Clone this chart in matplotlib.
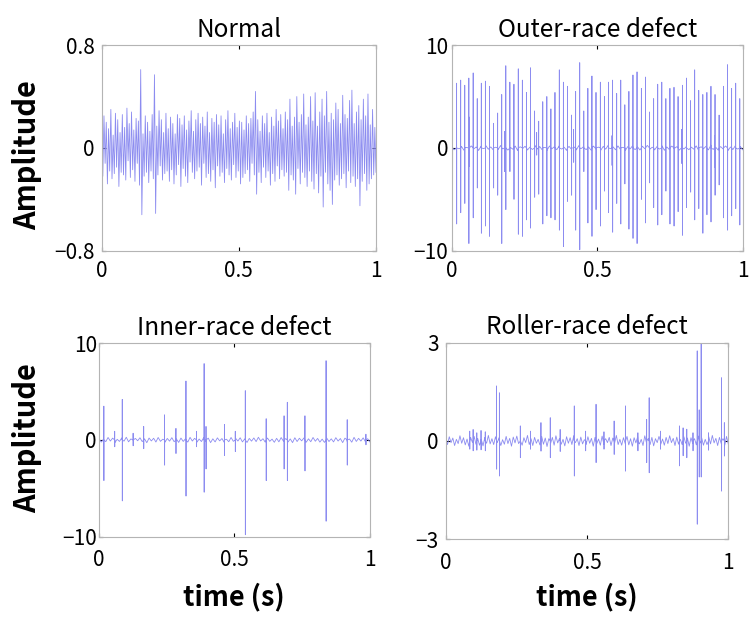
import numpy as np
import matplotlib
matplotlib.use('Agg')
import matplotlib.pyplot as plt

plt.rcParams['font.family'] = ['Noto Sans CJK JP', 'DejaVu Sans']

# Titles, limits and tick labels
titles = ['Normal', 'Outer-race defect', 'Inner-race defect', 'Roller-race defect']
y_limits = [0.8, 10, 10, 3]
x_ticks = [0, 0.5, 1]
x_tick_labels = ['0', '0.5', '1']

# Normal: dense vibration, samples read across 0..1 s
normal_signal = [
    0.18, -0.22, 0.25, -0.12, 0.20, -0.28, 0.15, -0.18, 0.30, -0.24, 0.10, -0.20, 0.27, -0.15, 0.22, -0.30, 0.12, -0.19, 0.26, -0.21,
    0.16, -0.25, 0.31, -0.10, 0.19, -0.23, 0.28, -0.17, 0.14, -0.26, 0.23, -0.12, 0.21, -0.29, 0.61, -0.52, 0.11, -0.22, 0.25, -0.19,
    0.20, -0.27, 0.13, -0.18, 0.26, -0.24, 0.57, -0.51, 0.17, -0.21, 0.29, -0.14, 0.22, -0.25, 0.12, -0.20, 0.27, -0.18, 0.15, -0.26,
    0.24, -0.17, 0.19, -0.28, 0.11, -0.21, 0.26, -0.13, 0.23, -0.30, 0.18, -0.16, 0.25, -0.22, 0.14, -0.27, 0.21, -0.11, 0.29, -0.19,
    0.13, -0.24, 0.22, -0.18, 0.27, -0.15, 0.19, -0.29, 0.24, -0.12, 0.17, -0.23, 0.28, -0.20, 0.12, -0.26, 0.23, -0.17, 0.20, -0.31,
    0.26, -0.14, 0.18, -0.22, 0.25, -0.19, 0.11, -0.27, 0.22, -0.16, 0.29, -0.21, 0.15, -0.25, 0.20, -0.13, 0.27, -0.23, 0.16, -0.18,
    0.21, -0.28, 0.20, -0.23, 0.14, -0.20, 0.25, -0.17, 0.19, -0.26, 0.23, -0.12, 0.28, -0.21, 0.44, -0.36, 0.22, -0.19, 0.13, -0.27,
    0.25, -0.15, 0.19, -0.23, 0.27, -0.18, 0.12, -0.29, 0.24, -0.20, 0.17, -0.26, 0.30, -0.14, 0.21, -0.24, 0.26, -0.17, 0.15, -0.22,
    0.28, -0.19, 0.22, -0.33, 0.38, -0.21, 0.17, -0.25, 0.24, -0.36, 0.40, -0.16, 0.20, -0.28, 0.26, -0.19, 0.42, -0.23, 0.18, -0.30,
    0.24, -0.18, 0.40, -0.26, 0.21, -0.32, 0.43, -0.20, 0.17, -0.35, 0.28, -0.22, 0.38, -0.46, 0.25, -0.19, 0.44, -0.28, 0.20, -0.33,
    0.27, -0.44, 0.22, -0.25, 0.35, -0.21, 0.30, -0.29, 0.19, -0.24, 0.41, -0.20, 0.26, -0.31, 0.23, -0.18, 0.37, -0.27, 0.45, -0.22,
    0.19, -0.30, 0.28, -0.24, 0.33, -0.45, 0.22, -0.26, 0.38, -0.20, 0.25, -0.33, 0.42, -0.28, 0.18, -0.24, 0.30, -0.21, 0.16, -0.19,
]

# Outer race: impacts (time, positive peak, negative peak)
outer_t = [0.003, 0.017, 0.031, 0.045, 0.059, 0.074, 0.088, 0.102, 0.116, 0.130, 0.144, 0.158, 0.172, 0.186, 0.200,
           0.214, 0.229, 0.243, 0.257, 0.271, 0.285, 0.299, 0.313, 0.327, 0.341, 0.355, 0.370, 0.384, 0.398, 0.412,
           0.426, 0.440, 0.454, 0.468, 0.482, 0.496, 0.511, 0.525, 0.539, 0.553, 0.567, 0.581, 0.595, 0.609, 0.623,
           0.637, 0.652, 0.666, 0.680, 0.694, 0.708, 0.722, 0.736, 0.750, 0.764, 0.778, 0.793, 0.807, 0.821, 0.835,
           0.849, 0.863, 0.877, 0.891, 0.905, 0.919, 0.934, 0.948, 0.962, 0.976, 0.990,
           0.061, 0.182, 0.292, 0.419, 0.551, 0.652, 0.790, 0.903]
outer_hi = [4.5, 6.3, 6.6, 6.1, 6.8, 7.3, 4.8, 6.3, 6.5, 6.0, 2.4, 3.4, 5.2, 8.0, 6.4,
            6.2, 7.7, 6.6, 5.4, 7.8, 3.6, 2.6, 4.5, 5.0, 3.8, 5.4, 7.6, 6.4, 6.0, 3.2,
            5.5, 8.3, 3.6, 5.8, 7.0, 5.4, 6.4, 5.0, 6.4, 6.6, 5.3, 6.6, 4.2, 5.5, 7.1,
            7.4, 5.8, 6.9, 3.5, 4.8, 6.2, 6.4, 4.8, 5.8, 5.9, 5.0, 6.1, 6.8, 4.6, 7.6,
            5.6, 5.2, 5.4, 6.0, 5.2, 3.2, 6.0, 8.1, 5.8, 6.3, 4.8,
            3.0, 1.6, 1.5, 1.8, 1.2, 1.4, 1.8, 1.2]
outer_lo = [3.8, 7.4, 6.3, 5.4, 9.3, 6.8, 3.9, 8.3, 7.6, 8.6, 3.9, 4.6, 9.3, 6.0, 2.3,
            5.0, 8.4, 8.6, 7.0, 7.8, 4.8, 4.5, 7.4, 6.6, 6.8, 7.0, 8.0, 9.6, 5.2, 4.6,
            8.0, 9.9, 2.3, 7.3, 8.6, 6.0, 7.6, 4.2, 6.3, 8.2, 5.4, 7.4, 3.5, 7.9, 8.8,
            9.3, 5.0, 7.3, 3.4, 5.8, 7.5, 6.5, 4.2, 7.4, 7.6, 6.2, 8.5, 5.8, 4.3, 7.0,
            5.9, 8.3, 6.5, 7.2, 4.6, 3.6, 6.8, 8.0, 6.6, 5.9, 7.5,
            1.8, 2.3, 0.7, 1.4, 1.7, 1.2, 1.5, 1.9]
outer_base = [
    0.12, -0.18, 0.25, -0.08, 0.15, -0.22, 0.05, -0.14, 0.20, -0.11, 0.09, -0.25, 0.17, -0.06, 0.22, -0.13, 0.10, -0.19, 0.07, -0.16,
    0.24, -0.09, 0.13, -0.21, 0.06, -0.12, 0.18, -0.26, 0.11, -0.07, 0.16, -0.20, 0.08, -0.15, 0.27, -0.10, 0.14, -0.18, 0.05, -0.23,
    0.19, -0.08, 0.12, -0.17, 0.21, -0.11, 0.07, -0.24, 0.15, -0.13, 0.10, -0.19, 0.23, -0.06, 0.14, -0.16, 0.09, -0.21, 0.18, -0.10,
    0.08, -0.22, 0.16, -0.12, 0.26, -0.07, 0.11, -0.18, 0.20, -0.14, 0.06, -0.25, 0.13, -0.09, 0.22, -0.16, 0.10, -0.20, 0.17, -0.08,
    0.25, -0.13, 0.07, -0.19, 0.15, -0.11, 0.21, -0.23, 0.09, -0.15, 0.18, -0.06, 0.12, -0.22, 0.24, -0.10, 0.14, -0.17, 0.08, -0.12,
    0.20, -0.24, 0.11, -0.08, 0.16, -0.19, 0.27, -0.14, 0.06, -0.21, 0.13, -0.10, 0.19, -0.26, 0.09, -0.16, 0.22, -0.11, 0.15, -0.18,
]

# Inner race: impacts
inner_t = [0.018, 0.058, 0.086, 0.126, 0.165, 0.242, 0.284, 0.321, 0.360, 0.388, 0.395,
           0.463, 0.503, 0.540, 0.617, 0.683, 0.695, 0.760, 0.838, 0.916, 0.985]
inner_hi = [3.5, 0.9, 4.2, 0.7, 1.4, 2.6, 1.2, 6.1, 0.9, 7.9, 1.4,
            1.6, 0.9, 5.1, 2.2, 2.5, 3.9, 2.5, 8.2, 2.1, 0.6]
inner_lo = [4.2, 0.7, 6.3, 0.6, 0.9, 2.6, 1.4, 5.8, 0.7, 5.4, 3.0,
            1.6, 1.2, 9.8, 4.2, 3.0, 4.2, 3.2, 8.4, 2.6, 0.5]
inner_base = [
    0.14, -0.22, 0.09, -0.17, 0.26, -0.11, 0.19, -0.27, 0.07, -0.15, 0.21, -0.12, 0.28, -0.19, 0.11, -0.24, 0.16, -0.08, 0.23, -0.17,
    0.12, -0.28, 0.20, -0.10, 0.18, -0.21, 0.26, -0.14, 0.08, -0.23, 0.16, -0.12, 0.24, -0.18, 0.10, -0.25, 0.20, -0.15, 0.13, -0.22,
    0.27, -0.11, 0.17, -0.23, 0.10, -0.16, 0.25, -0.13, 0.19, -0.27, 0.12, -0.20, 0.22, -0.09, 0.15, -0.25, 0.08, -0.18, 0.26, -0.14,
    0.18, -0.11, 0.23, -0.20, 0.11, -0.26, 0.16, -0.12, 0.21, -0.17, 0.28, -0.10, 0.13, -0.22, 0.20, -0.14, 0.09, -0.24, 0.17, -0.19,
    0.25, -0.12, 0.14, -0.21, 0.11, -0.27, 0.23, -0.16, 0.18, -0.09, 0.21, -0.23, 0.12, -0.18, 0.26, -0.13, 0.16, -0.22, 0.09, -0.25,
    0.20, -0.16, 0.12, -0.20, 0.24, -0.11, 0.15, -0.27, 0.19, -0.14, 0.10, -0.23, 0.27, -0.15, 0.17, -0.11, 0.22, -0.18, 0.13, -0.21,
]

# Roller: impacts
roller_t = [0.002, 0.085, 0.097, 0.110, 0.125, 0.140, 0.180, 0.190, 0.264, 0.300, 0.337,
            0.370, 0.405, 0.455, 0.495, 0.532, 0.560, 0.596, 0.636, 0.680, 0.711, 0.720,
            0.760, 0.827, 0.840, 0.853, 0.875, 0.890, 0.897, 0.904, 0.930, 0.976, 0.986]
roller_hi = [0.73, 0.30, 0.35, 0.25, 0.32, 0.28, 1.68, 1.47, 0.46, 0.30, 0.56,
             0.71, 0.35, 1.07, 0.30, 1.12, 0.28, 0.61, 1.07, 0.25, 0.66, 1.32,
             0.30, 0.46, 0.40, 0.36, 0.25, 2.75, 0.95, 3.10, 0.25, 1.93, 0.56]
roller_lo = [0.86, 0.25, 0.30, 0.28, 0.27, 0.30, 0.86, 1.07, 0.51, 0.25, 0.31,
             0.51, 0.32, 1.07, 0.30, 0.66, 0.25, 0.41, 0.92, 0.30, 0.66, 0.97,
             0.25, 0.76, 0.45, 0.51, 0.30, 2.54, 1.10, 1.10, 0.28, 1.53, 0.46]
roller_base = [
    0.07, -0.11, 0.13, -0.05, 0.09, -0.14, 0.05, -0.08, 0.16, -0.07, 0.10, -0.12, 0.06, -0.16, 0.11, -0.04, 0.14, -0.10, 0.08, -0.13,
    0.05, -0.15, 0.11, -0.07, 0.17, -0.09, 0.07, -0.11, 0.13, -0.05, 0.10, -0.14, 0.04, -0.10, 0.14, -0.08, 0.08, -0.16, 0.12, -0.06,
    0.15, -0.08, 0.06, -0.13, 0.10, -0.05, 0.17, -0.11, 0.07, -0.14, 0.11, -0.07, 0.05, -0.12, 0.14, -0.10, 0.09, -0.17, 0.07, -0.08,
    0.11, -0.13, 0.16, -0.06, 0.08, -0.10, 0.05, -0.15, 0.13, -0.07, 0.10, -0.11, 0.16, -0.05, 0.07, -0.14, 0.12, -0.09, 0.04, -0.11,
    0.13, -0.07, 0.08, -0.16, 0.11, -0.08, 0.06, -0.13, 0.15, -0.10, 0.07, -0.05, 0.11, -0.14, 0.09, -0.07, 0.17, -0.11, 0.05, -0.13,
    0.10, -0.08, 0.14, -0.12, 0.07, -0.16, 0.10, -0.06, 0.13, -0.09, 0.05, -0.14, 0.16, -0.07, 0.08, -0.11, 0.11, -0.15, 0.07, -0.05,
    0.14, -0.10, 0.06, -0.13, 0.11, -0.08, 0.16, -0.05, 0.08, -0.14, 0.12, -0.10, 0.05, -0.11, 0.13, -0.07, 0.09, -0.16, 0.10, -0.08,
    0.07, -0.12, 0.15, -0.07, 0.10, -0.13, 0.05, -0.11, 0.13, -0.09, 0.17, -0.06, 0.08, -0.14, 0.11, -0.08, 0.07, -0.13, 0.14, -0.10,
]


def merge(base, spike_t, hi, lo):
    # baseline samples spread over 0..1 s; each impact drawn as an upright
    # stroke starting and ending on zero at its own time
    bt = np.linspace(0, 1, len(base))
    st = np.asarray(spike_t)
    zeros = np.zeros(len(st))
    t = np.concatenate([bt, st - 0.0002, st, st + 0.0002, st + 0.0004])
    y = np.concatenate([base, zeros, hi, -np.asarray(lo), zeros])
    order = np.argsort(t, kind='stable')
    return t[order], y[order]


signals = [
    (np.linspace(0, 1, len(normal_signal)), np.array(normal_signal)),
    merge(outer_base, outer_t, outer_hi, outer_lo),
    merge(inner_base, inner_t, inner_hi, inner_lo),
    merge(roller_base, roller_t, roller_hi, roller_lo),
]

# axes boxes [left, bottom, width, height] in figure fractions
boxes = [
    [0.1352, 0.595, 0.3648, 0.332],
    [0.6006, 0.595, 0.387, 0.332],
    [0.1316, 0.133, 0.3604, 0.3124],
    [0.5927, 0.1288, 0.3758, 0.3176],
]
ypads = [5, 2.5, 1.5, 5]
xpads = [6.5, 6.5, 9, 9]

fig = plt.figure(figsize=(7.52, 6.19), dpi=100)

for i in range(4):
    ax = fig.add_axes(boxes[i])
    t, y = signals[i]
    ax.plot(t, y, color='#8c8cf0', linewidth=0.6, snap=False)
    lim = y_limits[i]
    ax.set_xlim(0, 1)
    ax.set_ylim(-lim, lim)
    ax.set_xticks(x_ticks)
    ax.set_xticklabels(x_tick_labels)
    ax.set_yticks([-lim, 0, lim])
    ax.set_yticklabels(['\u2212' + f'{lim:g}', '0', f'{lim:g}'])
    for s in ax.spines.values():
        s.set_color('#b4b4b4')
        s.set_linewidth(0.8)
    ax.tick_params(direction='in', length=3, width=0.8, color='black',
                   top=True, right=True, labelsize=15)
    ax.tick_params(axis='x', pad=xpads[i])
    ax.tick_params(axis='y', pad=ypads[i])
    ax.set_title(titles[i], fontsize=17.5, pad=6)

fig.text(0.036, 0.75, 'Amplitude', rotation=90, ha='center', va='center',
         fontsize=21, fontweight='bold')
fig.text(0.036, 0.292, 'Amplitude', rotation=90, ha='center', va='center',
         fontsize=21, fontweight='bold')
fig.text(0.311, 0.036, 'time (s)', ha='center', va='center',
         fontsize=19.5, fontweight='bold')
fig.text(0.781, 0.036, 'time (s)', ha='center', va='center',
         fontsize=19.5, fontweight='bold')

fig.savefig('out.png', dpi=100)
